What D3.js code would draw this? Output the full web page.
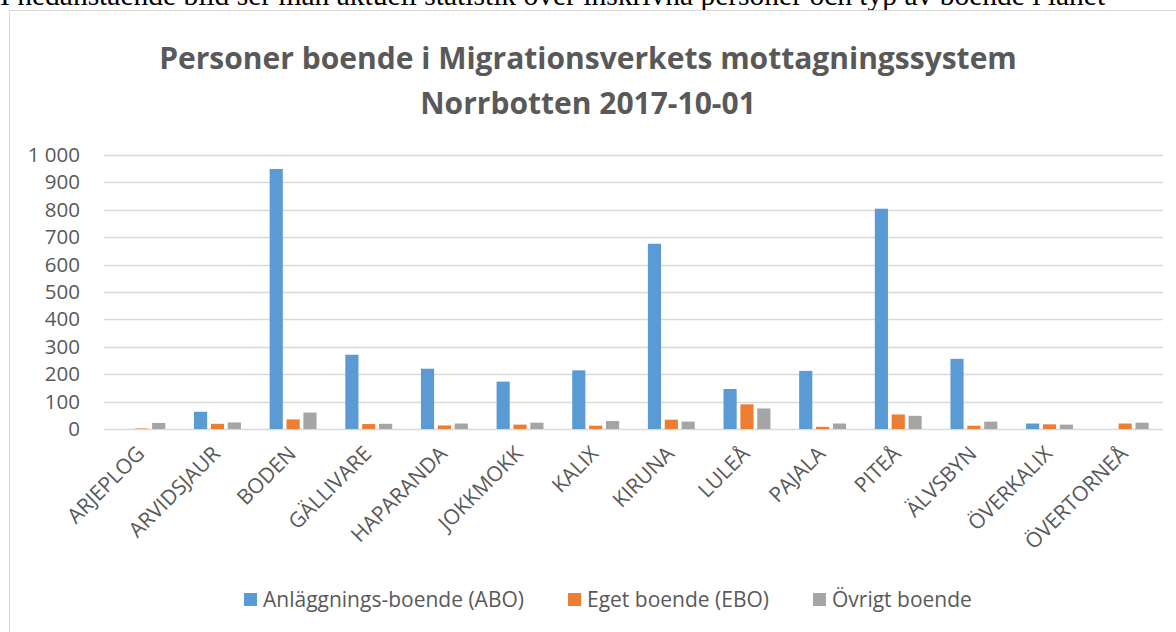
<!DOCTYPE html>
<html>
<head>
<meta charset="utf-8">
<script src="https://cdn.jsdelivr.net/npm/d3@7"></script>
<style>
  body { margin: 0; background: #fff; overflow: hidden; }
  svg { display: block; }
</style>
</head>
<body>
<div id="chart"></div>
<script>
// data
const municipalities = ["ARJEPLOG", "ARVIDSJAUR", "BODEN", "GÄLLIVARE", "HAPARANDA", "JOKKMOKK",
    "KALIX", "KIRUNA", "LULEÅ", "PAJALA", "PITEÅ", "ÄLVSBYN", "ÖVERKALIX", "ÖVERTORNEÅ"];
const seriesNames = ["Anläggnings-boende (ABO)", "Eget boende (EBO)", "Övrigt boende"];
const abo = [0, 63, 949, 271, 220, 173, 214, 676, 146, 212, 804, 256, 20, 0];
const ebo = [2, 19, 35, 18, 13, 16, 12, 34, 90, 8, 53, 12, 17, 20];
const ovrigt = [22, 24, 60, 19, 20, 23, 29, 27, 75, 20, 48, 27, 16, 23];
const yTicks = [0, 100, 200, 300, 400, 500, 600, 700, 800, 900, 1000];
const colors = ["#5b9bd5", "#ed7d31", "#a5a5a5"];

const width = 1176, height = 632;
const textColor = "#595959";
const font = "Open Sans, sans-serif";

const svg = d3.select("#chart").append("svg")
    .attr("width", width)
    .attr("height", height);

// the cut-off line of document text above the chart
svg.append("text")
    .attr("x", 0)
    .attr("y", 5)
    .attr("font-family", "Liberation Serif, Times New Roman, serif")
    .attr("font-size", 29.5)
    .attr("fill", "#000")
    .text("I nedanstående bild ser man aktuell statistik över inskrivna personer och typ av boende i länet");

// chart frame
svg.append("rect")
    .attr("x", 9.5)
    .attr("y", 10.5)
    .attr("width", 1200)
    .attr("height", 700)
    .attr("fill", "#fff")
    .attr("stroke", "#d9d9d9");

// title
const title = svg.append("text")
    .attr("text-anchor", "middle")
    .attr("font-family", font)
    .attr("font-weight", "bold")
    .attr("font-size", 30)
    .attr("fill", textColor);
title.append("tspan").attr("x", 588).attr("y", 69).text("Personer boende i Migrationsverkets mottagningssystem");
title.append("tspan").attr("x", 588).attr("y", 114).text("Norrbotten 2017-10-01");

const x = d3.scaleBand()
    .domain(municipalities)
    .range([104, 1163]);

const x1 = d3.scaleBand()
    .domain(seriesNames)
    .range([x.bandwidth() * 0.19, x.bandwidth() * 0.81])
    .paddingInner(0.22);

const y = d3.scaleLinear()
    .domain([0, 1000])
    .range([429, 155]);

// gridlines
svg.append("g")
    .selectAll("line")
    .data(yTicks)
    .join("line")
    .attr("x1", 104)
    .attr("x2", 1163)
    .attr("y1", d => Math.round(y(d)) + 0.5)
    .attr("y2", d => Math.round(y(d)) + 0.5)
    .attr("stroke", "#d9d9d9")
    .attr("stroke-width", 1.3);

// y axis labels
const yAxis = svg.append("g")
    .attr("transform", "translate(104,0)")
    .call(d3.axisLeft(y)
        .tickValues(yTicks)
        .tickSize(0)
        .tickPadding(24)
        .tickFormat(d => d3.format(",")(d).replace(",", " ")));
yAxis.select(".domain").remove();
yAxis.selectAll("text")
    .attr("font-family", font)
    .attr("font-size", 20.5)
    .attr("fill", textColor);

// bars
const rows = municipalities.map((m, i) => ({ name: m, values: [abo[i], ebo[i], ovrigt[i]] }));

svg.append("g")
    .selectAll("g")
    .data(rows)
    .join("g")
    .attr("transform", d => `translate(${x(d.name)},0)`)
    .selectAll("rect")
    .data(d => d.values.map((v, k) => ({ key: seriesNames[k], value: v, k: k })))
    .join("rect")
    .attr("x", d => x1(d.key))
    .attr("width", x1.bandwidth())
    .attr("y", d => y(d.value))
    .attr("height", d => y(0) - y(d.value))
    .attr("fill", d => colors[d.k]);

// x labels, rotated
svg.append("g")
    .selectAll("text")
    .data(municipalities)
    .join("text")
    .attr("transform", d => `translate(${x(d) + x.bandwidth() / 2 + 4},455) rotate(-45)`)
    .attr("text-anchor", "end")
    .attr("font-family", font)
    .attr("font-size", 21)
    .attr("fill", textColor)
    .text(d => d);

// legend
const legendX = [244, 568, 813];
const legend = svg.append("g")
    .selectAll("g")
    .data(seriesNames)
    .join("g")
    .attr("transform", (d, i) => `translate(${legendX[i]},593)`);
legend.append("rect")
    .attr("width", 13)
    .attr("height", 13)
    .attr("fill", (d, i) => colors[i]);
legend.append("text")
    .attr("x", 19)
    .attr("y", 14)
    .attr("font-family", font)
    .attr("font-size", 21)
    .attr("fill", textColor)
    .text(d => d);
</script>
</body>
</html>
